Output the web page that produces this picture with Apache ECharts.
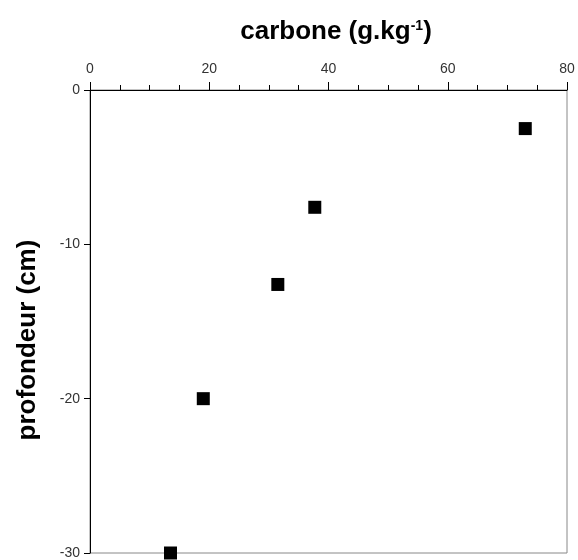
<!DOCTYPE html>
<html>
<head>
<meta charset="utf-8">
<script src="https://cdn.jsdelivr.net/npm/echarts@6/dist/echarts.min.js"></script>
<style>html,body{margin:0;padding:0;background:#fff}#c{width:578px;height:560px}</style>
</head>
<body>
<div id="c"></div>
<script>
const carbone = [73, 37.7, 31.5, 19, 13.5];
const profondeur = [-2.5, -7.6, -12.6, -20, -30];
const xTicks = [0, 20, 40, 60, 80];
const yTicks = [0, -10, -20, -30];

const chart = echarts.init(document.getElementById('c'), null, {renderer: 'canvas'});
const font = '"Liberation Sans", Arial, sans-serif';
chart.setOption({
  animation: false,
  backgroundColor: '#fff',
  title: {
    text: '{b|carbone (g.kg}{s|-1}{b|)}',
    left: 331, top: 14, textAlign: 'center',
    textStyle: {
      rich: {
        b: {fontFamily: font, fontWeight: 'bold', fontSize: 26, color: '#000'},
        s: {fontFamily: font, fontWeight: 'bold', fontSize: 14, color: '#000', verticalAlign: 'top', padding: [0,0,12,0]}
      }
    }
  },
  graphic: [{
    type: 'text', x: 28, y: 340, rotation: Math.PI / 2,
    style: {text: 'profondeur (cm)', font: 'bold 26px ' + font, fill: '#000', textAlign: 'center', textVerticalAlign: 'middle'}
  }],
  grid: {left: 90, right: 11, top: 90, bottom: 4, show: true, borderColor: '#888', borderWidth: 1, backgroundColor: 'transparent'},
  xAxis: {
    type: 'value', position: 'top', min: xTicks[0], max: xTicks[xTicks.length - 1], interval: 20,
    axisLine: {show: true, lineStyle: {color: '#000', width: 1}},
    axisTick: {show: true, length: 8, inside: false, lineStyle: {color: '#000'}},
    minorTick: {show: true, splitNumber: 4, length: 5, lineStyle: {color: '#000'}},
    splitLine: {show: false},
    axisLabel: {fontFamily: font, fontSize: 14, color: '#333', margin: 14}
  },
  yAxis: {
    type: 'value', min: yTicks[yTicks.length - 1], max: yTicks[0], interval: 10,
    axisLine: {show: true, onZero: false, lineStyle: {color: '#000', width: 1}},
    axisTick: {show: true, length: 6, lineStyle: {color: '#000'}},
    splitLine: {show: false},
    axisLabel: {fontFamily: font, fontSize: 14, color: '#333', margin: 10}
  },
  series: [{
    type: 'scatter',
    symbol: 'rect', symbolSize: 13,
    itemStyle: {color: '#000', opacity: 1},
    data: carbone.map((c, i) => [c, profondeur[i]])
  }]
});
</script>
</body>
</html>
